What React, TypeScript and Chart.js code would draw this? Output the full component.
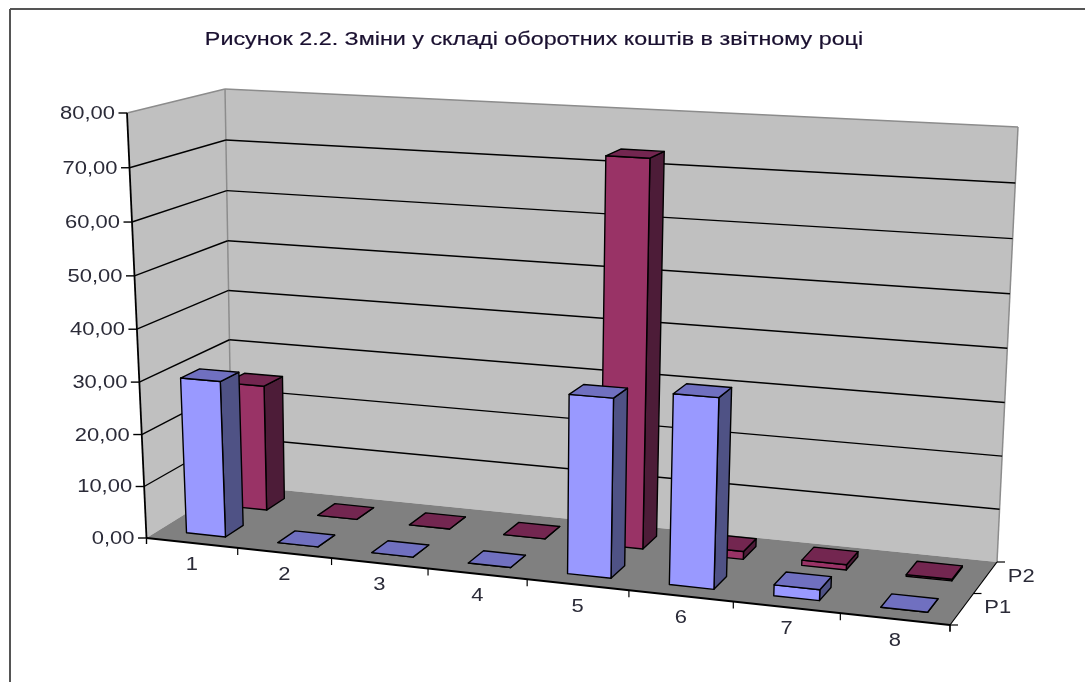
import React, { useEffect, useRef } from "react";
import { Chart, registerables } from "chart.js";

Chart.register(...registerables);

const titleText = "Рисунок 2.2. Зміни у складі оборотних коштів в звітному році";
const categories = ["1", "2", "3", "4", "5", "6", "7", "8"];
const p1Values = [30, 0, 0, 0, 33.2, 34.9, 2, 0];
const p2Values = [24.8, 0, 0, 0, 73.2, 1.5, 1, 0.3];
const seriesNames = ["P1", "P2"];

type Pt = [number, number];
// screen position of the eight corners of the 3D box: F/B front/back, L/R, b/t
const FLb: Pt = [146.5, 538], FRb: Pt = [950, 625], BLb: Pt = [232, 485], BRb: Pt = [997, 562];
const FLt: Pt = [127, 113], FRt: Pt = [975, 160], BLt: Pt = [225, 89], BRt: Pt = [1018, 127];
const PERSP = 0.105;
const PERSP_V = 0.035;
const BAR_W = 0.43; // share of a category band
const TEXT = "#2b2b38";
const FAMILY = "'Liberation Sans', Arial, sans-serif";

const palette = [
  { front: "#9999FF", side: "#4F5285", top: "#7070C0" },
  { front: "#993366", side: "#4D1C38", top: "#732650" },
];

const lerp = (a: Pt, b: Pt, t: number): Pt => [a[0] + (b[0] - a[0]) * t, a[1] + (b[1] - a[1]) * t];
const warp = (u: number) => u - PERSP * u * (1 - u);
// u: along categories, d: depth (0 front, 1 back), v: height; all 0..1
function project(u: number, d: number, v: number): Pt {
  const w = warp(u);
  const h = v - PERSP_V * v * (1 - v);
  const fb = lerp(FLb, FRb, w), ft = lerp(FLt, FRt, w);
  const bb = lerp(BLb, BRb, w), bt = lerp(BLt, BRt, w);
  return lerp(lerp(fb, ft, h), lerp(bb, bt, h), d);
}

function poly(ctx: CanvasRenderingContext2D, pts: Pt[], fill: string | null, stroke: string | null, lw = 1) {
  ctx.beginPath();
  pts.forEach((p, i) => (i ? ctx.lineTo(p[0], p[1]) : ctx.moveTo(p[0], p[1])));
  ctx.closePath();
  if (fill) { ctx.fillStyle = fill; ctx.fill(); }
  if (stroke) { ctx.strokeStyle = stroke; ctx.lineWidth = lw; ctx.lineJoin = "round"; ctx.stroke(); }
}
function line(ctx: CanvasRenderingContext2D, a: Pt, b: Pt, color: string, lw: number) {
  ctx.beginPath();
  ctx.moveTo(a[0], a[1]);
  ctx.lineTo(b[0], b[1]);
  ctx.strokeStyle = color;
  ctx.lineWidth = lw;
  ctx.stroke();
}
// the reference's text is stretched sideways, so it is drawn on a scaled context
function label(ctx: CanvasRenderingContext2D, s: string, x: number, y: number, align: CanvasTextAlign, sx: number, size = 18, color = TEXT, heavy = 0) {
  ctx.save();
  ctx.translate(x, y);
  ctx.scale(sx, 1);
  ctx.font = `${size}px ${FAMILY}`;
  ctx.fillStyle = color;
  ctx.textAlign = align;
  ctx.textBaseline = "middle";
  ctx.fillText(s, 0, 0);
  if (heavy) {
    ctx.strokeStyle = color;
    ctx.lineWidth = heavy;
    ctx.strokeText(s, 0, 0);
  }
  ctx.restore();
}
const fmt = (n: number) => n.toFixed(2).replace(".", ",");

const scene3d = {
  id: "scene3d",
  beforeDatasetsDraw(chart: any) {
    const ctx: CanvasRenderingContext2D = chart.ctx;
    const xs = chart.scales.x, ys = chart.scales.y;
    const uOf = (px: number) => (px - xs.left) / xs.width;
    const vOf = (val: number) => (ys.bottom - ys.getPixelForValue(val)) / ys.height;
    ctx.save();

    // page frame
    line(ctx, [10, 682], [10, 9], "#555555", 2);
    line(ctx, [10, 9], [1085, 9], "#555555", 2);

    // title
    label(ctx, titleText, 534, 40, "center", 1.227, 19, "#1a1030", 0.2);

    // walls and floor
    poly(ctx, [FLb, FLt, BLt, BLb], "#C0C0C0", null);
    poly(ctx, [BLb, BLt, BRt, BRb], "#C0C0C0", null);
    poly(ctx, [FLb, FRb, BRb, BLb], "#808080", null);
    line(ctx, FLt, BLt, "#8c8c8c", 1.5);
    line(ctx, BLt, BRt, "#8c8c8c", 1.5);
    line(ctx, BRt, BRb, "#8c8c8c", 1.5);
    line(ctx, BLt, BLb, "#8c8c8c", 1.5);

    // value gridlines, ticks and labels
    ys.ticks.forEach((t: any) => {
      const v = vOf(t.value);
      const f = project(0, 0, v), b = project(0, 1, v), r = project(1, 1, v);
      if (t.value > ys.min && t.value < ys.max) {
        line(ctx, f, b, "#000", 1.4);
        line(ctx, b, r, "#000", 1.4);
      }
      line(ctx, [f[0] - 8.5, f[1]], f, "#000", 1.4);
      label(ctx, fmt(t.value), f[0] - 12, f[1] + 1, "right", 1.22);
    });
    line(ctx, FLt, FLb, "#000", 1.8);
    line(ctx, FLb, [FLb[0], FLb[1] + 6], "#000", 1.4);
    line(ctx, FLb, FRb, "#000", 1.8);

    // category ticks and labels
    const n = categories.length;
    categories.forEach((c, i) => {
      const e = project((i + 1) / n, 0, 0);
      line(ctx, e, [e[0], e[1] + 7], "#000", 1.2);
      const m = project(uOf(xs.getPixelForValue(i)), 0, 0);
      label(ctx, c, m[0], m[1] + 22, "center", 1.22);
    });

    // depth axis
    line(ctx, FRb, BRb, "#000", 1.2);
    [0, 0.5, 1].forEach((d) => {
      const p = lerp(FRb, BRb, d);
      line(ctx, p, [p[0] + 8, p[1]], "#000", 1.2);
    });
    line(ctx, FRb, [FRb[0], FRb[1] + 6], "#000", 1.2);
    seriesNames.forEach((s, k) => {
      const p = lerp(FRb, BRb, (k + 0.5) / seriesNames.length);
      label(ctx, s, p[0] + 36, p[1] - 1, "center", 1.22);
    });

    // bars, back row first
    const halfW = BAR_W / n / 2;
    const halfD = (BAR_W / seriesNames.length) / 2;
    for (let k = seriesNames.length - 1; k >= 0; k--) {
      const ds = chart.data.datasets[k];
      const col = palette[k];
      const dc = (k + 0.5) / seriesNames.length + 0.01;
      ds.data.forEach((val: number, i: number) => {
        const uc = uOf(xs.getPixelForValue(i)) + 0.002;
        const u0 = uc - halfW, u1 = uc + halfW, d0 = dc - halfD, d1 = dc + halfD;
        const v = vOf(val);
        const A = project(u0, d0, 0), B = project(u1, d0, 0), C = project(u1, d1, 0);
        const a = project(u0, d0, v), b = project(u1, d0, v), c = project(u1, d1, v), e = project(u0, d1, v);
        poly(ctx, [B, C, c, b], col.side, "#000", 1.4);
        poly(ctx, [A, B, b, a], col.front, "#000", 1.4);
        poly(ctx, [a, b, c, e], col.top, "#000", 1.4);
      });
    }
    ctx.restore();
    return false; // the boxes above replace the flat bars
  },
};

export default function App() {
  const ref = useRef<HTMLCanvasElement | null>(null);
  useEffect(() => {
    if (!ref.current) return;
    const chart = new Chart(ref.current, {
      type: "bar",
      data: {
        labels: categories,
        datasets: [
          { label: seriesNames[0], data: p1Values, backgroundColor: palette[0].front, borderColor: "#000" },
          { label: seriesNames[1], data: p2Values, backgroundColor: palette[1].front, borderColor: "#000" },
        ],
      },
      options: {
        responsive: false,
        animation: false,
        events: [],
        scales: {
          x: { display: false, offset: true },
          y: { display: false, min: 0, max: 80, ticks: { stepSize: 10 } },
        },
        plugins: {
          legend: { display: false },
          tooltip: { enabled: false },
          title: { display: false },
        },
      },
      plugins: [scene3d],
    } as any);
    return () => chart.destroy();
  }, []);
  return (
    <div style={{ position: "absolute", left: 0, top: 0, width: 1085, height: 682, overflow: "hidden", background: "#fff" }}>
      <canvas ref={ref} width={1085} height={682} style={{ display: "block", filter: "blur(0.4px)" }} />
    </div>
  );
}
